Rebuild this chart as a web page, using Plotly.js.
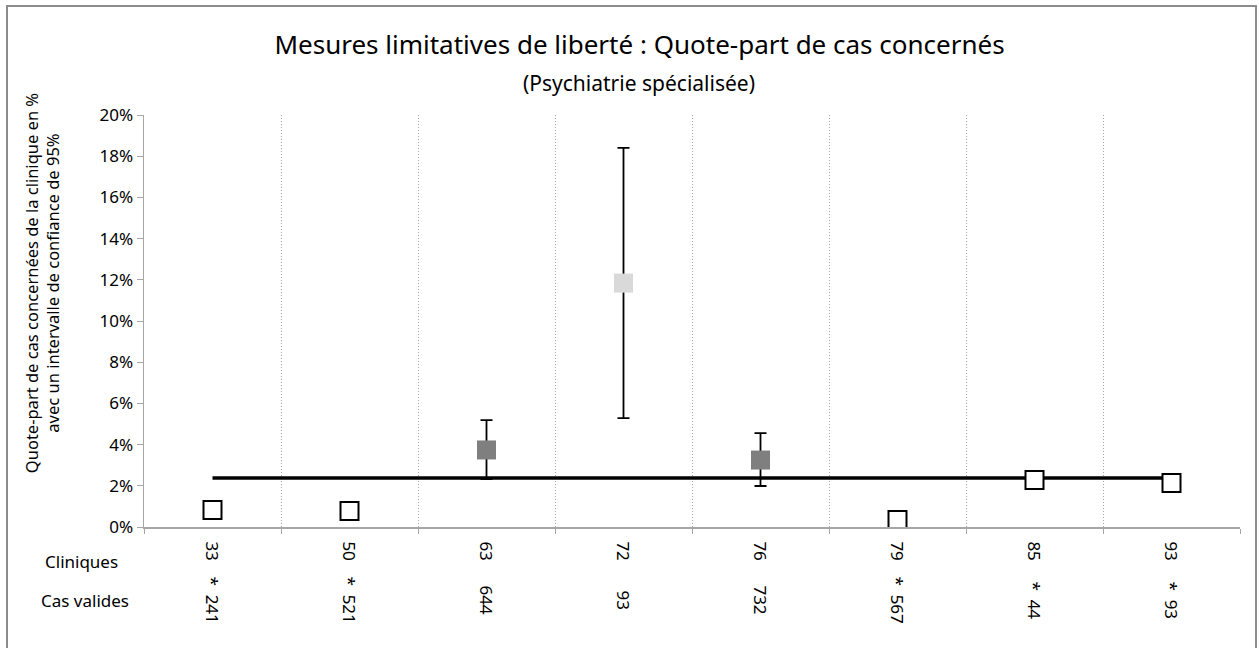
<!DOCTYPE html>
<html>
<head>
<meta charset="utf-8">
<script src="https://cdn.plot.ly/plotly-3.0.1.min.js"></script>
<style>
  html, body { margin: 0; padding: 0; background: #ffffff; }
  #chart { width: 1259px; height: 648px; }
</style>
</head>
<body>
<div id="chart"></div>
<script>
// ---- Data ----
const clinics    = ["33", "50", "63", "72", "76", "79", "85", "93"];
const validCases = ["241", "521", "644", "93", "732", "567", "44", "93"];
const starred    = [true, true, false, false, false, true, true, true];
// Rate of cases concerned (%)
const rates      = [0.83, 0.78, 3.74, 11.84, 3.25, 0.34, 2.28, 2.14];
// 95% confidence interval (%) – only shown for significant clinics
const ciLow      = [null, null, 2.33, 5.29, 1.99, null, null, null];
const ciHigh     = [null, null, 5.19, 18.40, 4.56, null, null, null];
// Category of each point: "open" (not significant), "high", "veryhigh"
const pointClass = ["open", "open", "high", "veryhigh", "high", "open", "open", "open"];
// Overall mean rate (%)
const overallRate = 2.38;

const yTicks = [0, 2, 4, 6, 8, 10, 12, 14, 16, 18, 20];

// ---- Build traces ----
const fillColors = { open: "#ffffff", high: "#7f7f7f", veryhigh: "#d9d9d9" };

const sigIdx  = clinics.map((c, i) => i).filter(i => ciLow[i] !== null);
const openIdx = clinics.map((c, i) => i).filter(i => ciLow[i] === null);

const lineTrace = {
  type: "scatter", mode: "lines",
  x: [clinics[0], clinics[clinics.length - 1]],
  y: [overallRate, overallRate],
  line: { color: "#000000", width: 3.5 },
  hoverinfo: "skip", showlegend: false
};

const sigTrace = {
  type: "scatter", mode: "markers",
  x: sigIdx.map(i => clinics[i]),
  y: sigIdx.map(i => rates[i]),
  marker: { symbol: "square", size: 19,
            color: sigIdx.map(i => fillColors[pointClass[i]]),
            line: { width: 0 } },
  error_y: { type: "data", symmetric: false,
             array: sigIdx.map(i => ciHigh[i] - rates[i]),
             arrayminus: sigIdx.map(i => rates[i] - ciLow[i]),
             color: "#000000", thickness: 1.8, width: 6 },
  showlegend: false
};

const openTrace = {
  type: "scatter", mode: "markers",
  x: openIdx.map(i => clinics[i]),
  y: openIdx.map(i => rates[i]),
  marker: { symbol: "square", size: 18, color: "#ffffff",
            line: { color: "#000000", width: 2 } },
  showlegend: false
};

// ---- Annotations ----
const FONT = "Noto Sans, Open Sans, sans-serif";
const annotations = [];
clinics.forEach((c, i) => {
  // category axes place annotations by category index
  annotations.push({
    xref: "x", yref: "paper", x: i, y: -0.058, text: c,
    textangle: 90, showarrow: false, xanchor: "center", yanchor: "middle",
    font: { family: FONT, size: 17, color: "#000000" }
  });
  annotations.push({
    xref: "x", yref: "paper", x: i, y: -0.177,
    text: (starred[i] ? "*  " : "") + validCases[i],
    textangle: 90, showarrow: false, xanchor: "center", yanchor: "middle",
    font: { family: FONT, size: 17, color: "#000000" }
  });
});
annotations.push({
  xref: "paper", yref: "paper", x: -0.0566, y: -0.083, text: "Cliniques",
  showarrow: false, xanchor: "center", yanchor: "middle",
  font: { family: FONT, size: 17, color: "#000000" }
});
annotations.push({
  xref: "paper", yref: "paper", x: -0.0538, y: -0.178, text: "Cas valides",
  showarrow: false, xanchor: "center", yanchor: "middle",
  font: { family: FONT, size: 17, color: "#000000" }
});
annotations.push({
  xref: "paper", yref: "paper", x: -0.093, y: 0.592,
  text: "Quote-part de cas concernées de la clinique en %<br>avec un intervalle de confiance de 95%",
  textangle: -90, showarrow: false, xanchor: "center", yanchor: "middle",
  font: { family: FONT, size: 16.5, color: "#000000" }
});
annotations.push({
  xref: "paper", yref: "paper", x: 0.452, y: 1.077,
  text: "(Psychiatrie spécialisée)",
  showarrow: false, xanchor: "center", yanchor: "middle",
  font: { family: FONT, size: 21, color: "#000000" }
});

const layout = {
  width: 1259, height: 648,
  margin: { l: 144, r: 19, t: 115, b: 121 },
  paper_bgcolor: "#ffffff", plot_bgcolor: "#ffffff",
  font: { family: FONT, size: 17, color: "#000000" },
  title: {
    text: "Mesures limitatives de liberté : Quote-part de cas concernés",
    x: 0.508, xref: "container", xanchor: "center",
    y: 0.931, yref: "container", yanchor: "middle",
    font: { family: FONT, size: 26, color: "#000000" }
  },
  xaxis: {
    type: "category", categoryorder: "array", categoryarray: clinics,
    range: [-0.5, clinics.length - 0.5],
    tickson: "boundaries", showticklabels: false,
    ticks: "outside", ticklen: 5, tickcolor: "#a6a6a6",
    showgrid: true, gridcolor: "#a6a6a6", griddash: "1px,2px", gridwidth: 1,
    showline: true, linecolor: "#a6a6a6", linewidth: 1.5,
    zeroline: false, fixedrange: true
  },
  yaxis: {
    range: [0, 20], tickvals: yTicks, ticktext: yTicks.map(v => v + "%"),
    ticks: "outside", ticklen: 6, tickcolor: "#a6a6a6",
    showgrid: false, zeroline: false,
    showline: true, linecolor: "#a6a6a6", linewidth: 1.5,
    tickfont: { family: FONT, size: 17, color: "#000000" },
    fixedrange: true
  },
  shapes: [{
    type: "rect", xref: "paper", yref: "paper",
    x0: -0.125, x1: 1.0146, y0: -0.31, y1: 1.2646,
    line: { color: "#8c8c8c", width: 2 }, fillcolor: "rgba(0,0,0,0)", layer: "below"
  }],
  annotations: annotations,
  showlegend: false
};

Plotly.newPlot("chart", [lineTrace, sigTrace, openTrace], layout, { displayModeBar: false, staticPlot: true });
</script>
</body>
</html>
